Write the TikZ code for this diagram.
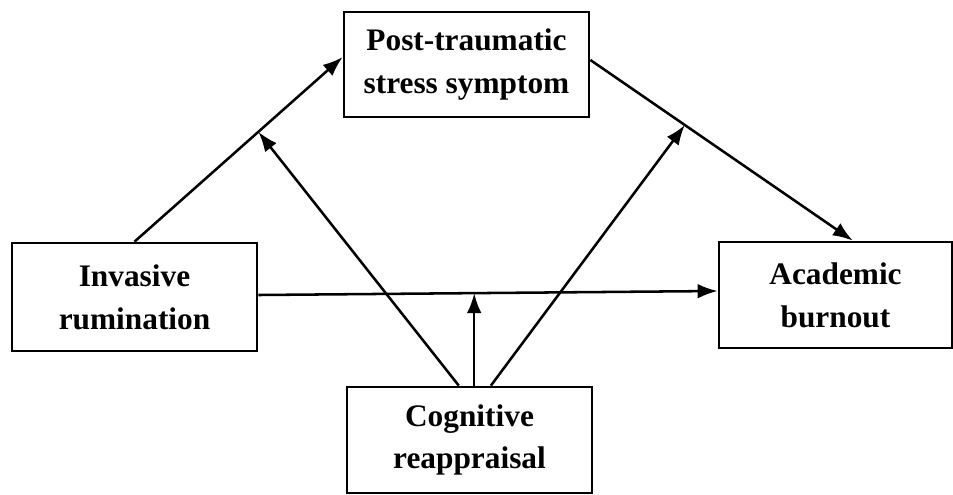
\documentclass[tikz,border=0pt]{standalone}
\usepackage{fontspec}
\setmainfont{Liberation Serif}
\usetikzlibrary{arrows.meta, calc}
\tikzset {
    every node/.style={font=\bfseries\fontsize{23.5}{32}\selectfont},
    factor/.style={draw, line width=2pt, align=center, inner sep=0pt},
    link/.style={draw, -{Latex[length=15pt, width=11pt]}, line width=1.9pt}
}

\begin{document}
\begin{tikzpicture}[x=0.75pt, y=-0.75pt]
                        \useasboundingbox (0,0) rectangle (953,494);

                        \node[factor, minimum width=183.75pt, minimum height=78.75pt] (ptss) at (466.5,64.5) {Post-traumatic\\stress symptom};
                        \node[factor, minimum width=183.75pt, minimum height=81pt] (inv) at (134.5,297) {Invasive\\rumination};
                        \node[factor, minimum width=174.75pt, minimum height=79.5pt] (acad) at (835.5,295) {Academic\\burnout};
                        \node[factor, minimum width=183.75pt, minimum height=79.5pt] (cog) at (469.5,440) {Cognitive\\reappraisal};

                        % ends of the main paths
                        \coordinate (ptssin) at ([yshift=5.6pt]ptss.west);
                        \coordinate (ptssout) at ([yshift=3.4pt]ptss.east);
                        \coordinate (acadtop) at ([xshift=13pt]acad.north);
                        \coordinate (invout) at ([yshift=1.5pt]inv.east);
                        \coordinate (acadin) at ([yshift=3pt]acad.west);

                        % points hit by the moderation arrows
                        \coordinate (m1) at ($(inv.north)!0.595!(ptssin)$);
                        \coordinate (m2) at ($(ptssout)!0.36!(acadtop)$);
                        \coordinate (m3) at ($(invout)!0.47!(acadin)$);

                        \path
                        (inv.north) edge[link] (ptssin)
                        (ptssout) edge[link] (acadtop)
                        (invout) edge[link] (acadin)
                        ([xshift=-8pt]cog.north) edge[link] (m1)
                        (cog.north -| m3) edge[link] (m3)
                        ([xshift=16pt]cog.north) edge[link] (m2);
                    \end{tikzpicture}
\end{document}
